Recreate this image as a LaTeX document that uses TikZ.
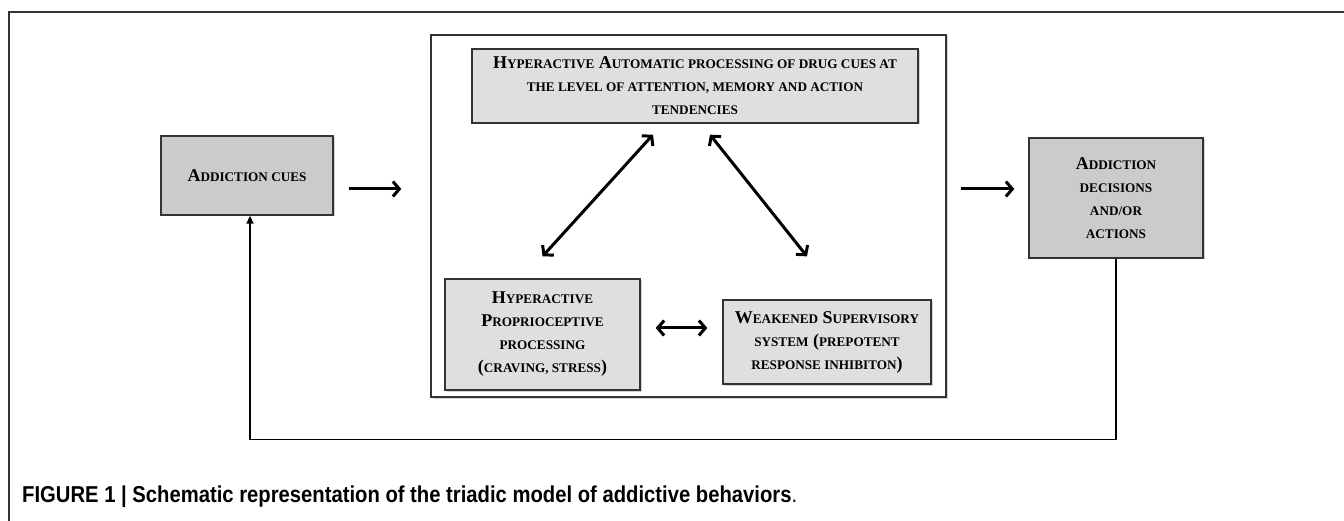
\documentclass[tikz,border=0pt]{standalone}
\usepackage{fontspec}
\setmainfont{Liberation Serif}
\newfontfamily\capfont[FakeStretch=0.88]{Liberation Sans}
\usetikzlibrary{arrows.meta,shadows,calc}

\definecolor{boxdark}{HTML}{CBCBCB}
\definecolor{boxlight}{HTML}{DFDFDF}
\definecolor{frameline}{HTML}{333333}

% small letters of the small-caps labels
\newcommand{\sm}[1]{{\fontsize{13.2}{15}\selectfont #1}}

\begin{document}
\begin{tikzpicture}[x=1pt,y=-1pt,
    box/.style={draw=frameline, line width=1.3pt, align=center, inner sep=0pt,
        font=\bfseries\fontsize{18}{23}\selectfont,
        drop shadow={shadow xshift=1.5pt, shadow yshift=-1.5pt, fill=black!35}},
    darkbox/.style={box, fill=boxdark},
    lightbox/.style={box, fill=boxlight},
    arr/.style={line width=3pt, -{Straight Barb[length=6.5pt,width=15pt]}},
    dblarr/.style={line width=3pt, {Straight Barb[length=6.5pt,width=15pt]}-{Straight Barb[length=6.5pt,width=15pt]}},
    fb/.style={line width=1.4pt, -{Triangle[length=8pt,width=7pt]}}]

\useasboundingbox (0,0) rectangle (1344,521);

% Draw the outer frame
\draw[frameline, line width=1.4pt] (9,521) -- (9,12) -- (1344,12);

% Draw the central container
\node[draw=frameline, fill=white, line width=1.3pt, minimum width=515pt, minimum height=362pt,
    drop shadow={shadow xshift=1.5pt, shadow yshift=-1.5pt, fill=black!35}] (container) at (688.5,216) {};

% Boxes inside the container
\node[lightbox, minimum width=446pt, minimum height=74pt] (auto) at (695,86)
    {H\sm{YPERACTIVE} A\sm{UTOMATIC PROCESSING OF DRUG CUES AT}\\
     \sm{THE LEVEL OF ATTENTION, MEMORY AND ACTION}\\
     \sm{TENDENCIES}};
\node[lightbox, minimum width=195pt, minimum height=111pt] (proprio) at (542.5,334.5)
    {H\sm{YPERACTIVE}\\ P\sm{ROPRIOCEPTIVE}\\ \sm{PROCESSING}\\ (\sm{CRAVING, STRESS})};
\node[lightbox, minimum width=208pt, minimum height=84pt] (weak) at (827,342)
    {W\sm{EAKENED} S\sm{UPERVISORY}\\ \sm{SYSTEM} (\sm{PREPOTENT}\\ \sm{RESPONSE INHIBITON})};

% Boxes outside the container
\node[darkbox, minimum width=172pt, minimum height=79pt] (cues) at (247,175.5)
    {A\sm{DDICTION CUES}};
\node[darkbox, minimum width=174pt, minimum height=120pt] (outcome) at (1116,198)
    {A\sm{DDICTION}\\ \sm{DECISIONS}\\ \sm{AND/OR}\\ \sm{ACTIONS}};

% Arrows of the triad
\draw[dblarr] ([xshift=-42pt,yshift=-11pt]auto.south) -- ([yshift=22pt]proprio.north);
\draw[dblarr] ([xshift=15pt,yshift=-11pt]auto.south) -- ([xshift=-20pt,yshift=43pt]weak.north);
\draw[dblarr] ([xshift=15pt,yshift=6.5pt]proprio.east) -- ([xshift=-15pt,yshift=14pt]weak.west);

% In and out of the container
\draw[arr] ($(cues.east)+(15,13.5)$) -- ($(cues.east -| container.west)+(-29,13.5)$);
\draw[arr] ($(outcome.west -| container.east)+(14,-9)$) -- ($(outcome.west)+(-14,-9)$);

% Feedback loop
\draw[fb] (outcome.south) -- ++(0,181) -| ([xshift=3pt]cues.south);

% Caption
\node[anchor=west, inner sep=0pt, font=\capfont\bfseries\fontsize{23}{25}\selectfont] (caption) at (22,497)
    {FIGURE 1 | Schematic representation of the triadic model of addictive behaviors\mdseries.};

\end{tikzpicture}
\end{document}
